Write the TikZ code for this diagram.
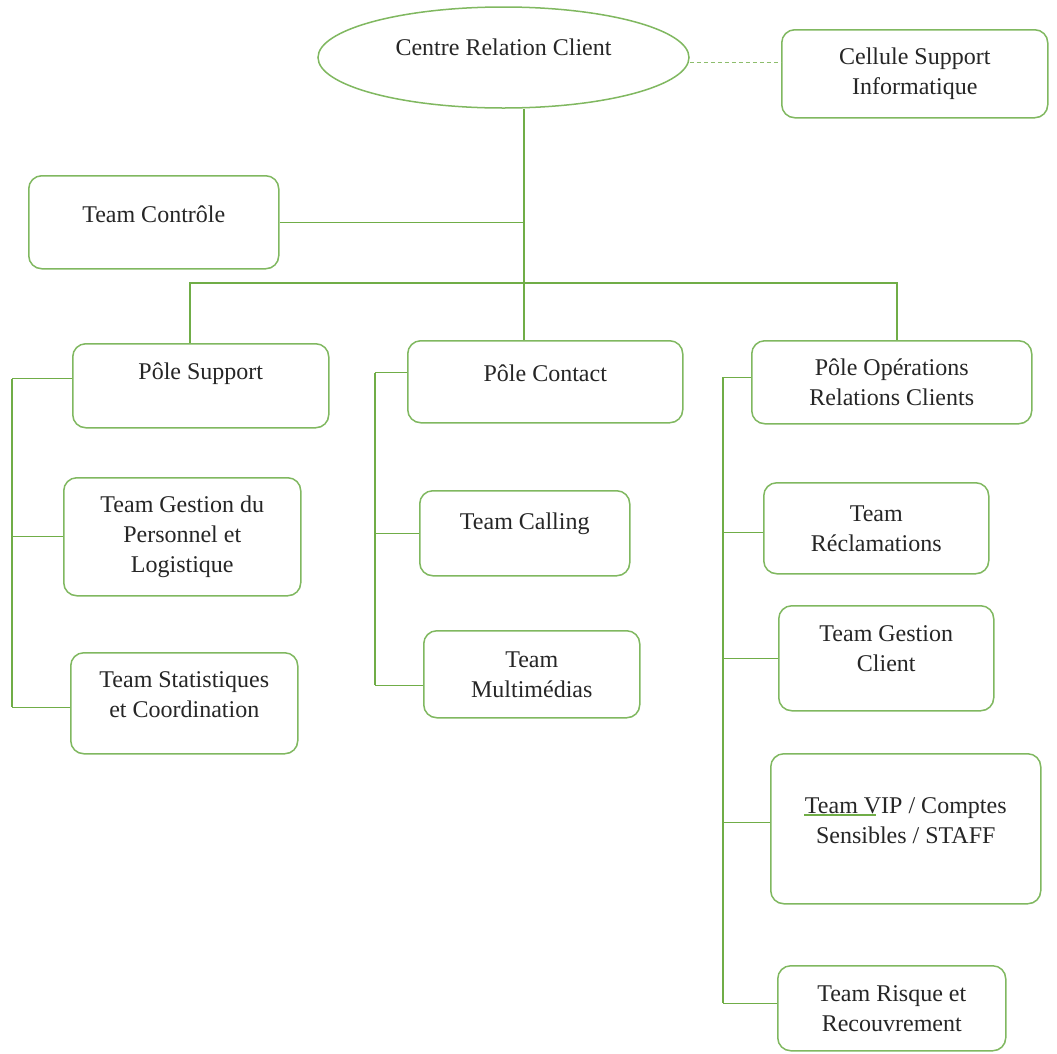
\documentclass[tikz,border=0pt]{standalone}
\usepackage{fontspec}
\setmainfont{Liberation Serif}
\usetikzlibrary{shapes.geometric}

\definecolor{lgreen}{RGB}{112,173,71}
\definecolor{bgreen}{RGB}{128,184,96}
\definecolor{txtgray}{RGB}{38,38,38}

\tikzset{
  box/.style={draw=bgreen, line width=1.5pt, rounded corners=13pt, anchor=north west,
    align=center, inner sep=2pt, text=txtgray, font=\fontsize{24}{30}\selectfont},
  lift/.style={text depth=#1},
  link/.style={draw=lgreen, line width=1.4pt},
}

\begin{document}
\begin{tikzpicture}[x=1pt, y=-1pt]
    \path[fill=white, use as bounding box] (0,0) rectangle (1057,1053);

    \node[ellipse, draw=bgreen, line width=1.5pt, minimum width=371pt, minimum height=101pt,
      text=txtgray, font=\fontsize{24}{30}\selectfont, lift=20pt] (crc) at (503.5,57.5) {Centre Relation Client};
    \node[box, minimum width=266pt, minimum height=88pt] (csi) at (781,29) {Cellule Support\\Informatique};
    \node[box, lift=16pt, minimum width=250pt, minimum height=93pt] (ctrl) at (28,175) {Team Contrôle};

    \node[box, lift=29pt, minimum width=256pt, minimum height=84pt] (psupport) at (72,343) {Pôle Support};
    \node[box, lift=18pt, minimum width=275pt, minimum height=82pt] (pcontact) at (407,340) {Pôle Contact};
    \node[box, minimum width=280pt, minimum height=83pt] (popera) at (751,340) {Pôle Opérations\\Relations Clients};

    \node[box, minimum width=237pt, minimum height=118pt] (gestpers) at (63,477) {Team Gestion du\\Personnel et\\Logistique};
    \node[box, lift=18pt, minimum width=227pt, minimum height=101pt] (stats) at (70,652) {Team Statistiques\\et Coordination};

    \node[box, lift=25pt, minimum width=210pt, minimum height=85pt] (calling) at (419,490) {Team Calling};
    \node[box, minimum width=216pt, minimum height=87pt] (multi) at (423,630) {Team\\Multimédias};

    \node[box, minimum width=225pt, minimum height=91pt] (reclam) at (763,482) {Team\\Réclamations};
    \node[box, lift=20pt, minimum width=215pt, minimum height=105pt] (gclient) at (778,605) {Team Gestion\\Client};
    \node[box, lift=17pt, minimum width=270pt, minimum height=150pt] (vip) at (770,753) {Team VIP / Comptes\\Sensibles / STAFF};
    \node[box, minimum width=228pt, minimum height=85pt] (risque) at (777,965) {Team Risque et\\Recouvrement};

    \coordinate (hub) at (524,283);
    \coordinate (busL) at (190,283);
    \coordinate (busR) at (897,283);
    \coordinate (railL) at (12,0);
    \coordinate (railM) at (375,0);
    \coordinate (railR) at (723,0);

    \draw[link, draw=lgreen!80, dash pattern=on 4pt off 3pt] ([yshift=-5pt]crc.east) -- ([yshift=-5pt]crc.east -| csi.west);
    \draw[link] (hub |- crc.south) -- (hub |- pcontact.north);
    \draw[link] (ctrl.east) -- (ctrl.east -| hub);
    \draw[link] (busL |- psupport.north) -- (busL) -- (busR) -- (busR |- popera.north);

    \draw[link] ([yshift=7pt]psupport.west -| railL) -- ([yshift=-4pt]stats.west -| railL);
    \foreach \n/\d in {psupport/7, gestpers/0, stats/-4}
      \draw[link] ([yshift=\d pt]\n.west) -- ([yshift=\d pt]\n.west -| railL);

    \draw[link] ([yshift=9pt]pcontact.west -| railM) -- ([yshift=-11pt]multi.west -| railM);
    \foreach \n/\d in {pcontact/9, calling/0, multi/-11}
      \draw[link] ([yshift=\d pt]\n.west) -- ([yshift=\d pt]\n.west -| railM);

    \draw[link] ([yshift=5pt]popera.west -| railR) -- ([yshift=5pt]risque.west -| railR);
    \foreach \n/\d in {popera/5, reclam/-4, gclient/0, vip/6, risque/5}
      \draw[link] ([yshift=\d pt]\n.west) -- ([yshift=\d pt]\n.west -| railR);

    \draw[link, line width=1.2pt] ([shift={(34pt,-62pt)}]vip.north west) -- ++(72,0); % spell mark
\end{tikzpicture}
\end{document}
